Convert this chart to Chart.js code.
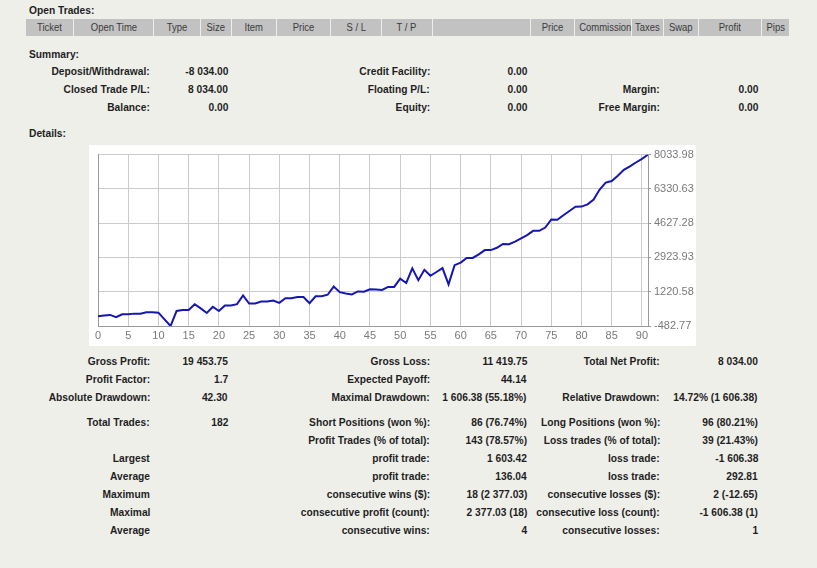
<!DOCTYPE html>
<html>
<head>
<meta charset="utf-8">
<script src="https://cdn.jsdelivr.net/npm/chart.js@4.4.1/dist/chart.umd.min.js"></script>
<style>
body { margin: 0; width: 817px; height: 568px; position: relative; overflow: hidden; background: #efefea;
       font-family: "Liberation Sans", Arial, sans-serif; font-size: 11px; font-weight: bold; color: #1e1e1e; }
.t { position: absolute; white-space: nowrap; line-height: 14px; transform: scaleX(0.93); }
.tl { transform-origin: left center; }
.tr { transform-origin: right center; }
.h { position: absolute; top: 19px; height: 17px; line-height: 17px; background: #c2c2c2; color: #3a3a3a; font-weight: normal; text-align: center; white-space: nowrap; }
.h span { display: inline-block; transform: scaleX(0.86); }
#box { position: absolute; left: 89px; top: 145px; width: 607px; height: 201px; background: #fff; }
</style>
</head>
<body>
<div class="t tl" style="left:29px;top:3px">Open Trades:</div>
<div class="t tl" style="left:29px;top:47px">Summary:</div>
<div class="t tl" style="left:29px;top:126px">Details:</div>
<div id="box"><canvas id="balanceChart"></canvas></div>
<script>
// balance after each trade
const balance = [0, 35, 68, -46, 100, 100, 132, 132, 197, 197, 181, -150, -482.77, 262, 311, 311, 602, 392, 165, 473,
    262, 537, 537, 602, 1039, 634, 634, 731, 731, 780, 667, 893, 893, 958, 958, 651, 991, 991, 1071, 1476,
    1200, 1136, 1088, 1233, 1225, 1340, 1330, 1310, 1460, 1460, 1865, 1655, 2385, 1795, 2310, 2015, 2200, 2395, 1585, 2540,
    2670, 2901, 2901, 3079, 3290, 3290, 3403, 3597, 3581, 3711, 3873, 4034, 4245, 4245, 4407, 4812, 4795, 5022, 5233, 5443,
    5450, 5560, 5799, 6300, 6642, 6720, 6981, 7280, 7450, 7640, 7823, 8033.98];
const yTicks = [-482.77, 1220.58, 2923.93, 4627.28, 6330.63, 8033.98];
const xTicks = [0, 5, 10, 15, 20, 25, 30, 35, 40, 45, 50, 55, 60, 65, 70, 75, 80, 85, 90];

const headCols = [['Ticket', 26, 73], ['Open Time', 74, 153], ['Type', 154, 200], ['Size', 201, 231], ['Item', 232, 276],
    ['Price', 277, 330], ['S / L', 331, 381], ['T / P', 382, 432], ['', 433, 530], ['Price', 531, 574],
    ['Commission', 575, 631], ['Taxes', 632, 663], ['Swap', 664, 698], ['Profit', 699, 761], ['Pips', 762, 789]];

const summaryRows = [
    [71, 'Deposit/Withdrawal:', '-8 034.00', 'Credit Facility:', '0.00', '', ''],
    [89, 'Closed Trade P/L:', '8 034.00', 'Floating P/L:', '0.00', 'Margin:', '0.00'],
    [107, 'Balance:', '0.00', 'Equity:', '0.00', 'Free Margin:', '0.00']
];
const detailRows = [
    [361, 'Gross Profit:', '19 453.75', 'Gross Loss:', '11 419.75', 'Total Net Profit:', '8 034.00'],
    [379, 'Profit Factor:', '1.7', 'Expected Payoff:', '44.14', '', ''],
    [397, 'Absolute Drawdown:', '42.30', 'Maximal Drawdown:', '1 606.38 (55.18%)', 'Relative Drawdown:', '14.72% (1 606.38)'],
    [422, 'Total Trades:', '182', 'Short Positions (won %):', '86 (76.74%)', 'Long Positions (won %):', '96 (80.21%)'],
    [440, '', '', 'Profit Trades (% of total):', '143 (78.57%)', 'Loss trades (% of total):', '39 (21.43%)'],
    [458, 'Largest', '', 'profit trade:', '1 603.42', 'loss trade:', '-1 606.38'],
    [476, 'Average', '', 'profit trade:', '136.04', 'loss trade:', '292.81'],
    [494, 'Maximum', '', 'consecutive wins ($):', '18 (2 377.03)', 'consecutive losses ($):', '2 (-12.65)'],
    [512, 'Maximal', '', 'consecutive profit (count):', '2 377.03 (18)', 'consecutive loss (count):', '-1 606.38 (1)'],
    [530, 'Average', '', 'consecutive wins:', '4', 'consecutive losses:', '1']
];
const colRight = [150, 228, 430, 527, 660, 758];

headCols.forEach(c => {
    const d = document.createElement('div');
    d.className = 'h';
    d.style.left = c[1] + 'px';
    d.style.width = (c[2] - c[1]) + 'px';
    const s = document.createElement('span');
    s.textContent = c[0];
    d.appendChild(s);
    document.body.appendChild(d);
});

summaryRows.concat(detailRows).forEach(row => {
    for (let k = 1; k < row.length; k++) {
        if (!row[k]) continue;
        const d = document.createElement('div');
        d.className = 't tr';
        d.style.right = (817 - colRight[k - 1]) + 'px';
        d.style.top = (row[0] - 7) + 'px';
        d.textContent = row[k];
        document.body.appendChild(d);
    }
});

const tickFont = { family: '"Liberation Sans", Arial, sans-serif', size: 11 };
const ctx = document.getElementById('balanceChart').getContext('2d');
new Chart(ctx, {
    type: 'line',
    data: {
        datasets: [{
            data: balance.map((v, i) => ({ x: i, y: v })),
            borderColor: '#1616b4',
            borderWidth: 2,
            pointRadius: 0,
            tension: 0
        }]
    },
    options: {
        responsive: true,
        maintainAspectRatio: false,
        animation: false,
        devicePixelRatio: 1,
        layout: { padding: { left: 9, top: 6, right: 0, bottom: 0 } },
        plugins: { legend: { display: false }, tooltip: { enabled: false } },
        scales: {
            x: {
                type: 'linear', min: 0, max: balance.length - 1,
                afterBuildTicks: s => { s.ticks = xTicks.map(v => ({ value: v })); },
                afterFit: s => { s.height = 20; },
                ticks: { color: '#7a7a7a', font: tickFont, padding: 3, maxRotation: 0, autoSkip: false },
                grid: { color: '#cbcbcb', borderDash: [3, 3], drawTicks: false },
                border: { color: '#9a9a9a' }
            },
            y: {
                position: 'right',
                min: yTicks[0], max: yTicks[yTicks.length - 1],
                afterBuildTicks: s => { s.ticks = yTicks.map(v => ({ value: v })); },
                afterFit: s => { s.width = 48; },
                ticks: { color: '#7a7a7a', font: tickFont, padding: 3, callback: v => v.toFixed(2) },
                grid: { color: '#cbcbcb', borderDash: [3, 3], tickLength: 3, tickColor: '#9a9a9a', tickBorderDash: [1, 0] },
                border: { color: '#9a9a9a' }
            },
            yl: {
                position: 'left',
                min: yTicks[0], max: yTicks[yTicks.length - 1],
                ticks: { display: false },
                grid: { display: false, drawTicks: false },
                border: { display: true, color: '#9a9a9a' },
                afterFit: s => { s.width = 0; }
            }
        }
    }
});
</script>
</body>
</html>
